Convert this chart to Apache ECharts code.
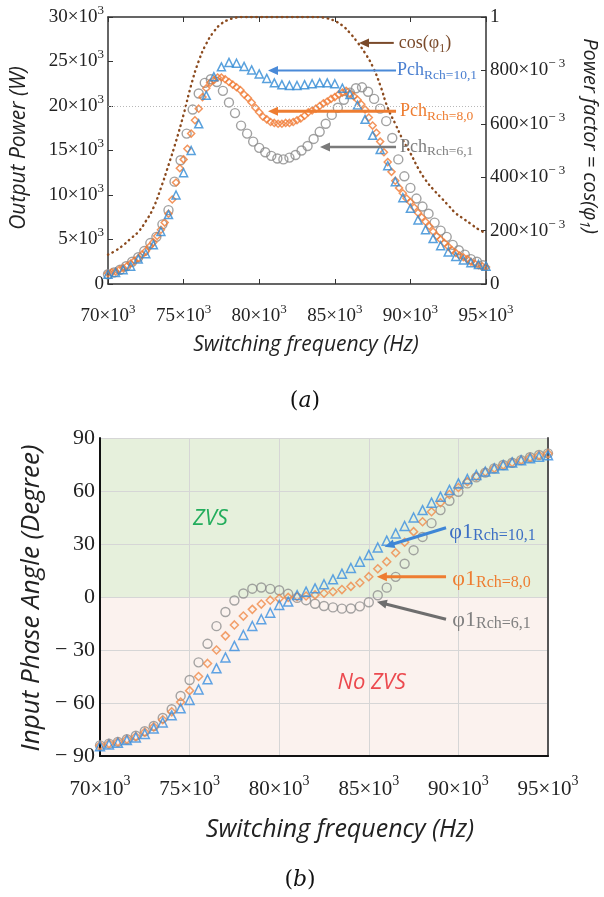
<!DOCTYPE html>
<html><head><meta charset="utf-8">
<script src="https://cdn.jsdelivr.net/npm/echarts@6/dist/echarts.min.js"></script>
<style>html,body{margin:0;padding:0;background:#fff}#c{width:604px;height:897px}</style>
</head><body><div id="c"></div>
<script>
// ---------- data ----------
// frequency axis ticks (kHz, shown as x10^3 Hz)
const freqTicks = [70, 75, 80, 85, 90, 95];
// (a) output power, kW (shown as x10^3 W)
const pchR61Start = 70, pchR61Step = 0.4;
const pchR61 = [1.1,1.3,1.6,2.0,2.5,3.0,3.7,4.6,5.3,6.7,8.3,11.5,13.9,16.9,19.6,21.4,22.6,23.0,22.7,21.7,
  20.4,19.2,17.8,16.9,16.0,15.3,14.8,14.4,14.1,14.0,14.2,14.5,15.0,15.5,16.3,17.1,18.0,19.0,19.8,20.7,
  21.5,22.0,22.1,21.6,20.8,19.7,18.3,16.4,14.0,12.1,10.8,9.6,8.7,7.9,6.9,6.0,5.3,4.4,3.8,3.3,2.8,2.5,2.1];
const pchR80Start = 70, pchR80Step = 0.25;
const pchR80 = [1.2,1.3,1.4,1.6,1.8,2.0,2.3,2.6,2.9,3.3,3.7,4.2,4.7,5.4,6.1,6.9,7.9,9.5,11.4,13.0,
  14.0,15.2,16.9,18.4,19.7,21.0,22.0,22.6,22.9,23.2,23.2,23.0,22.7,22.4,22.1,21.8,21.3,20.9,20.4,19.8,
  19.3,18.8,18.5,18.2,18.1,18.0,18.0,18.1,18.1,18.2,18.4,18.6,18.9,19.3,19.5,19.7,20.0,20.3,20.5,20.8,
  21.0,21.3,21.5,21.7,21.4,21.1,20.7,20.2,19.6,18.7,17.8,17.0,16.0,14.8,13.7,12.6,11.6,10.8,10.2,9.6,
  9.2,8.6,8.0,7.5,7.0,6.5,5.9,5.4,5.0,4.6,4.2,3.8,3.5,3.2,3.0,2.8,2.5,2.3,2.1,2.0,1.9];
const pchR101Start = 70, pchR101Step = 0.5;
const pchR101 = [1.1,1.3,1.6,2.0,2.8,3.4,4.4,5.9,7.8,10.0,12.5,15.0,18.0,21.2,23.3,24.4,24.9,24.8,24.45,24.05,
  23.6,23.1,22.6,22.4,22.3,22.3,22.4,22.5,22.6,22.6,22.5,22.0,21.3,20.1,18.5,16.7,15.1,13.3,11.5,9.7,
  8.5,7.2,6.1,5.1,4.3,3.6,3.1,2.7,2.4,2.2,2.0];
const cosStart = 70, cosStep = 0.5;
const cosPhi1 = [0.11,0.125,0.145,0.17,0.195,0.235,0.285,0.36,0.445,0.535,0.635,0.745,0.835,0.9,0.945,0.975,0.99,0.998,1,1,
  1,1,1,1,1,1,1,1,0.999,0.995,0.985,0.968,0.94,0.905,0.865,0.815,0.745,0.66,0.6,0.54,
  0.49,0.435,0.39,0.355,0.325,0.295,0.265,0.245,0.225,0.205,0.19];
const powerLimit = 20;
// (b) input phase angle, degrees
const phiStart = 70, phiStep = 0.5;
const phiR101 = [-84.5,-83.5,-82.5,-81,-79.5,-77.5,-74.5,-71,-67,-63,-58.3,-52.3,-46.6,-40.4,-34.2,-27.7,-21.5,-16.4,-12.6,-8.9,
  -4.5,-2.6,1.1,3.0,4.9,7.2,10.0,13.2,16.4,20.0,23.8,28.0,31.9,36.0,40.2,45.0,49.2,53.4,56.8,60.6,
  64.3,66.8,69.1,71.0,72.8,74.6,76.2,77.4,78.5,79.4,80.2];
const phiR80 = [-84,-83,-82,-80.5,-79,-76.5,-73.5,-69.5,-65,-59.5,-53,-45,-37.6,-30,-22,-15.8,-10.8,-7,-4,-1.8,
  -0.9,-0.2,0.2,0.6,1.2,2.1,3.0,4.2,6.0,8.1,11.5,16,20,25.1,31,37,42.6,48.3,53.4,58,
  62,65.3,68.2,70.8,72.9,74.7,76.1,77.5,79,80.2,81.2];
const phiR61 = [-84,-83,-82,-80.5,-78.5,-76,-73,-68.5,-63.5,-56,-47,-37,-26.5,-16.5,-8.5,-2,2,4.7,5.4,4.6,
  3.8,1.8,-0.5,-1.8,-3.8,-5.1,-5.9,-6.6,-6.5,-5.3,-3.0,1.0,5.3,11.4,18.8,26.5,34,41.8,49.2,54.5,
  59.6,64.3,67.7,70.4,72.8,74.7,76.0,77.5,79.1,80.4,81.3];

// ---------- helpers ----------
function pairs(start, step, vals) { return vals.map((v, i) => [Math.round((start + i * step) * 1000) / 1000, v]); }
const SERIF = '"Liberation Serif","Times New Roman",serif';
const SANS = '"Open Sans","Noto Sans",sans-serif';
function supRich(fs, sfs, lh) {
  return { b: { fontFamily: SERIF, fontSize: fs, color: '#222', lineHeight: lh },
           s: { fontFamily: SERIF, fontSize: sfs, color: '#222', lineHeight: sfs, verticalAlign: 'top' } };
}
const hollow = (c, w) => ({ color: 'rgba(0,0,0,0)', borderColor: c, borderWidth: w });

const option = {
  animation: false,
  backgroundColor: '#fff',
  grid: [
    { left: 108, right: 118, top: 17, height: 267 },
    { left: 100, right: 56, top: 438, height: 318 }
  ],
  xAxis: [
    { gridIndex: 0, type: 'value', min: 70, max: 95, interval: 5, position: 'bottom',
      axisLine: { onZero: false, lineStyle: { color: '#333', width: 1.5 } },
      axisTick: { inside: true, length: 5, lineStyle: { color: '#333' } },
      splitLine: { show: false },
      axisLabel: { margin: 19, formatter: v => `{b|${v}×10}{s|3}`, rich: supRich(19, 13, 26) } },
    { gridIndex: 0, type: 'value', min: 70, max: 95, interval: 5, position: 'top',
      axisLine: { show: true, onZero: false, lineStyle: { color: '#333', width: 1.5 } },
      axisTick: { inside: true, length: 5, lineStyle: { color: '#333' } },
      splitLine: { show: false }, axisLabel: { show: false } },
    { gridIndex: 1, type: 'value', min: 70, max: 95, interval: 5, position: 'bottom', z: 1.5,
      axisLine: { onZero: false, lineStyle: { color: '#111', width: 2 } },
      axisTick: { show: false },
      splitLine: { show: true, lineStyle: { color: '#d6d6d6', width: 1 } },
      axisLabel: { margin: 18, formatter: v => `{b|${v}×10}{s|3}`, rich: supRich(21, 14, 30) } }
  ],
  yAxis: [
    { gridIndex: 0, type: 'value', min: 0, max: 30, interval: 5, position: 'left',
      axisLine: { show: true, onZero: false, lineStyle: { color: '#333', width: 1.5 } },
      axisTick: { show: true, inside: true, length: 5, lineStyle: { color: '#333' } },
      splitLine: { show: false },
      axisLabel: { margin: 4, formatter: v => v === 0 ? '{b|0}' : `{b|${v}×10}{s|3}`, rich: supRich(19, 13, 26) } },
    { gridIndex: 0, type: 'value', min: 0, max: 1, interval: 0.2, position: 'right',
      axisLine: { show: true, onZero: false, lineStyle: { color: '#333', width: 1.5 } },
      axisTick: { show: true, inside: true, length: 5, lineStyle: { color: '#333' } },
      splitLine: { show: false },
      axisLabel: { margin: 4, formatter: v => (v === 0 || v === 1) ? `{b|${v}}` : `{b|${Math.round(v * 1000)}×10}{s|− 3}`, rich: supRich(19, 13, 26) } },
    { gridIndex: 1, type: 'value', min: -90, max: 90, interval: 30, position: 'left', z: 1.5,
      axisLine: { show: true, onZero: false, lineStyle: { color: '#111', width: 2 } },
      axisTick: { show: false },
      splitLine: { show: true, lineStyle: { color: '#d6d6d6', width: 1 } },
      axisLabel: { margin: 5, formatter: v => `{b|${v < 0 ? '− ' + (-v) : v}}`, rich: supRich(22, 14, 26) } },
    { gridIndex: 1, type: 'value', min: -90, max: 90, interval: 30, position: 'right', z: 1.5,
      axisLine: { show: true, onZero: false, lineStyle: { color: '#555', width: 2 } },
      axisTick: { show: false }, splitLine: { show: false }, axisLabel: { show: false } }
  ],
  series: [
    // background zones for (b)
    { type: 'line', xAxisIndex: 2, yAxisIndex: 2, z: 1, data: [[70, 0]], showSymbol: false, symbolSize: 0,
      lineStyle: { width: 0 }, silent: true,
      markArea: { silent: true, data: [
        [{ yAxis: 0, itemStyle: { color: '#e6f0dc' } }, { yAxis: 90 }],
        [{ yAxis: -90, itemStyle: { color: '#fbf2ee' } }, { yAxis: 0 }]
      ] } },
    // (a)
    { name: 'cos', type: 'line', xAxisIndex: 0, yAxisIndex: 1, smooth: true, showSymbol: false,
      data: pairs(cosStart, cosStep, cosPhi1),
      lineStyle: { color: '#8b4a1e', width: 2.4, type: [0.5, 4.6], cap: 'round' } },
    { name: 'P61', type: 'scatter', xAxisIndex: 0, yAxisIndex: 0, symbol: 'circle', symbolSize: 9,
      itemStyle: hollow('#8a8a8a', 1.4), data: pairs(pchR61Start, pchR61Step, pchR61),
      markLine: { silent: true, symbol: 'none', label: { show: false },
        lineStyle: { color: '#b8b8b8', type: [1, 2], width: 1 }, data: [{ yAxis: powerLimit }] } },
    { name: 'P80', type: 'scatter', xAxisIndex: 0, yAxisIndex: 0, symbol: 'diamond', symbolSize: 7,
      itemStyle: hollow('#f07a35', 1.5), data: pairs(pchR80Start, pchR80Step, pchR80) },
    { name: 'P101', type: 'scatter', xAxisIndex: 0, yAxisIndex: 0, symbol: 'triangle', symbolSize: 8,
      itemStyle: hollow('#2f8ad4', 1.5), data: pairs(pchR101Start, pchR101Step, pchR101) },
    // (b)
    { name: 'phi61', type: 'scatter', xAxisIndex: 2, yAxisIndex: 2, symbol: 'circle', symbolSize: 9,
      itemStyle: hollow('#8e8e8e', 1.4), data: pairs(phiStart, phiStep, phiR61) },
    { name: 'phi80', type: 'scatter', xAxisIndex: 2, yAxisIndex: 2, symbol: 'diamond', symbolSize: 8,
      itemStyle: hollow('#f08a48', 1.5), data: pairs(phiStart, phiStep, phiR80) },
    { name: 'phi101', type: 'scatter', xAxisIndex: 2, yAxisIndex: 2, symbol: 'triangle', symbolSize: 9,
      itemStyle: hollow('#3a8fe0', 1.5), data: pairs(phiStart, phiStep, phiR101) }
  ]
};

const chart = echarts.init(document.getElementById('c'));
chart.setOption(option);

const P = (xi, yi, pt) => chart.convertToPixel({ xAxisIndex: xi, yAxisIndex: yi }, pt);
const G = [];
function arrow(a, b, color, w) {
  const dx = b[0] - a[0], dy = b[1] - a[1], L = Math.hypot(dx, dy), ux = dx / L, uy = dy / L;
  const hl = 10, hw = 4.5;
  const bx = b[0] - ux * hl, by = b[1] - uy * hl;
  G.push({ type: 'line', z: 20, shape: { x1: a[0], y1: a[1], x2: bx + ux * 2, y2: by + uy * 2 }, style: { stroke: color, lineWidth: w } });
  G.push({ type: 'polygon', z: 20, shape: { points: [[b[0], b[1]], [bx - uy * hw, by + ux * hw], [bx + uy * hw, by - ux * hw]] }, style: { fill: color } });
}
function label(x, y, text, rich, extra) {
  G.push(Object.assign({ type: 'text', z: 21, x: x, y: y,
    style: { text: text, rich: rich, align: 'left', verticalAlign: 'middle', textAlign: 'left', textVerticalAlign: 'middle' } }, extra || {}));
}
function subRich(color, fs, sfs, fam) {
  return { m: { fill: color, color: color, fontFamily: fam || SERIF, fontSize: fs, lineHeight: 24 },
           s: { fill: color, color: color, fontFamily: fam || SERIF, fontSize: sfs, lineHeight: sfs, verticalAlign: 'bottom' } };
}

// (a) annotations
let t, h;
t = P(0, 1, [88.9, 0.903]); h = P(0, 1, [86.6, 0.903]);
arrow(t, h, '#7a4a2a', 2);
label(t[0] + 5, t[1], '{m|cos(φ}{s|1}{m|)}', subRich('#7a4a2a', 18, 12));
t = P(0, 0, [89.05, 24.0]); h = P(0, 0, [80.58, 24.0]);
arrow(t, h, '#4a8ad8', 2);
label(t[0] + 1, t[1], '{m|Pch}{s|Rch=10,1}', subRich('#4a7fd0', 18, 13.5));
t = P(0, 0, [89.05, 19.4]); h = P(0, 0, [80.58, 19.4]);
arrow(t, h, '#ee7d31', 3);
label(t[0] + 4, t[1], '{m|Pch}{s|Rch=8,0}', subRich('#ee7d31', 18, 13.5));
t = P(0, 0, [89.05, 15.4]); h = P(0, 0, [84.02, 15.4]);
arrow(t, h, '#7a7a7a', 2.5);
label(t[0] + 4, t[1], '{m|Pch}{s|Rch=6,1}', subRich('#808080', 18, 13.5));

// (b) annotations
t = P(2, 2, [89.31, 39.2]); h = P(2, 2, [85.88, 28.5]);
arrow(t, h, '#3f86d6', 3);
let q = P(2, 2, [89.49, 36.8]);
label(q[0], q[1], '{m|φ1}{s|Rch=10,1}', subRich('#3d6fc4', 22, 16));
t = P(2, 2, [89.31, 11.5]); h = P(2, 2, [85.45, 11.5]);
arrow(t, h, '#ee7d31', 3);
q = P(2, 2, [89.66, 10.2]);
label(q[0], q[1], '{m|φ1}{s|Rch=8,0}', subRich('#ee7d31', 22, 16));
t = P(2, 2, [89.31, -12.6]); h = P(2, 2, [85.45, -2.7]);
arrow(t, h, '#6e6e6e', 3);
q = P(2, 2, [89.66, -13.0]);
label(q[0], q[1], '{m|φ1}{s|Rch=6,1}', subRich('#808080', 22, 16));

q = P(2, 2, [76.16, 44.1]);
G.push({ type: 'text', z: 21, x: q[0], y: q[1], style: { text: 'ZVS', fill: '#22ad5c', font: 'italic 22px ' + SANS, align: 'center', verticalAlign: 'middle', textAlign: 'center', textVerticalAlign: 'middle' } });
q = P(2, 2, [85.16, -48.7]);
G.push({ type: 'text', z: 21, x: q[0], y: q[1], style: { text: 'No ZVS', fill: '#ec4a4f', font: 'italic 22px ' + SANS, align: 'center', verticalAlign: 'middle', textAlign: 'center', textVerticalAlign: 'middle' } });

// titles
function title(x, y, text, size, rot, rich) {
  const el = { type: 'text', z: 21, x: x, y: y, rotation: rot || 0,
    style: { text: text, fill: '#222', font: 'italic ' + size + 'px ' + SANS, align: 'center', verticalAlign: 'middle', textAlign: 'center', textVerticalAlign: 'middle' } };
  if (rich) el.style.rich = rich;
  G.push(el);
}
title(19, 148, 'Output Power (W)', 21, Math.PI / 2);
title(590, 136, '{t|Power factor = cos(φ}{s|1}{t|)}', 20, -Math.PI / 2, {
  t: { fill: '#222', fontFamily: SANS, fontStyle: 'italic', fontSize: 20, lineHeight: 26 },
  s: { fill: '#222', fontFamily: SANS, fontStyle: 'italic', fontSize: 14, lineHeight: 14, verticalAlign: 'bottom' } });
title(306, 345, 'Switching frequency (Hz)', 21);
title(32, 598, 'Input Phase Angle (Degree)', 26, Math.PI / 2);
title(340, 830, 'Switching frequency (Hz)', 25);
const capRich = { n: { fill: '#111', fontFamily: '"DejaVu Serif",' + SERIF, fontSize: 22 }, i: { fill: '#111', fontFamily: '"DejaVu Serif",' + SERIF, fontStyle: 'italic', fontSize: 22 } };
title(305, 401, '{n|(}{i|a}{n|)}', 22, 0, capRich);
title(300, 880, '{n|(}{i|b}{n|)}', 22, 0, capRich);

chart.setOption({ graphic: { elements: G } });
</script>
</body></html>
